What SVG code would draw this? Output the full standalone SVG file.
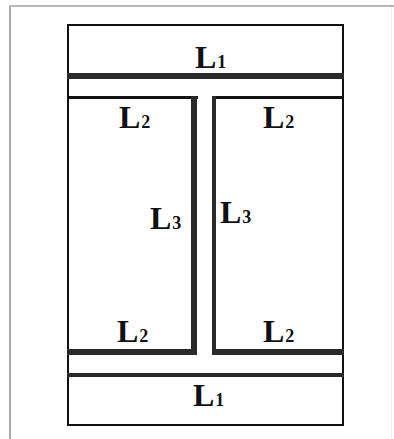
<svg xmlns="http://www.w3.org/2000/svg" width="394" height="439" viewBox="0 0 394 439">
  <style>
    .lbl { font-family: "Liberation Serif", "Times New Roman", serif; font-weight: bold; font-size: 32px; fill: #111; }
    .sub { font-size: 18px; }
    .bar { fill: #2a2a2a; }
    .thin { fill: #111; }
  </style>
  <rect x="0" y="0" width="394" height="439" fill="#ffffff"/>
  <!-- page frame -->
  <g id="frame">
    <rect x="9" y="5" width="2" height="434" fill="#a8a8a8"/>
    <rect x="9" y="5" width="385" height="2" fill="#b8b8b8"/>
    <rect x="391" y="7" width="1" height="432" fill="#eeeeee"/>
  </g>
  <!-- outer boundary -->
  <g id="outer">
    <rect x="68" y="25" width="275" height="400" fill="none" stroke="#111" stroke-width="2"/>
  </g>
  <g id="top-L1">
    <rect class="bar" x="67" y="73" width="277" height="6"/>
    <text class="lbl" x="195" y="68">L<tspan class="sub" dx="1" dy="0">1</tspan></text>
  </g>
  <g id="left-box">
    <rect class="thin" x="67" y="96" width="131" height="3"/>
    <rect class="bar" x="191" y="96" width="6" height="259"/>
    <rect class="bar" x="67" y="349" width="130" height="6"/>
    <text class="lbl" x="119" y="128">L<tspan class="sub" dx="1" dy="0">2</tspan></text>
    <text class="lbl" x="150" y="229">L<tspan class="sub" dx="1" dy="0">3</tspan></text>
    <text class="lbl" x="117" y="342">L<tspan class="sub" dx="1" dy="0">2</tspan></text>
  </g>
  <g id="right-box">
    <rect class="thin" x="212" y="96" width="132" height="3"/>
    <rect class="bar" x="212" y="96" width="4" height="259"/>
    <rect class="bar" x="212" y="349" width="132" height="6"/>
    <text class="lbl" x="263" y="128">L<tspan class="sub" dx="1" dy="0">2</tspan></text>
    <text class="lbl" x="220" y="223">L<tspan class="sub" dx="1" dy="0">3</tspan></text>
    <text class="lbl" x="263" y="342">L<tspan class="sub" dx="1" dy="0">2</tspan></text>
  </g>
  <g id="bottom-L1">
    <rect class="bar" x="67" y="373" width="277" height="4"/>
    <text class="lbl" x="193" y="406">L<tspan class="sub" dx="1" dy="0">1</tspan></text>
  </g>
  <g id="connectors"></g>
</svg>
